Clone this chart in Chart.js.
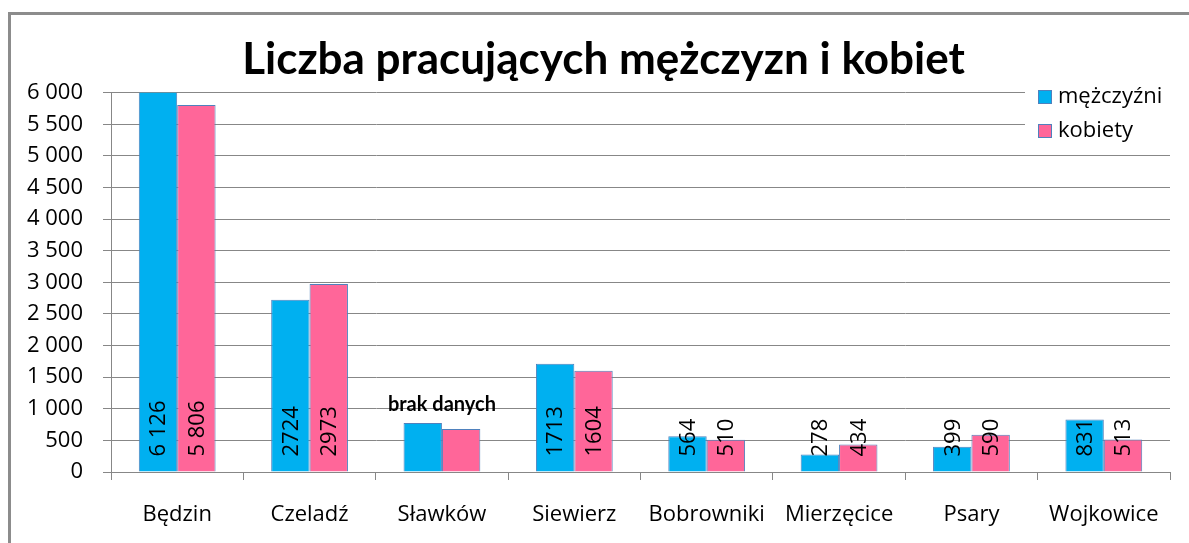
<!DOCTYPE html>
<html>
<head>
<meta charset="utf-8">
<script src="https://cdn.jsdelivr.net/npm/chart.js@4.4.0/dist/chart.umd.min.js"></script>
<style>
  html, body { margin: 0; padding: 0; background: #fff; }
  #wrap { position: relative; width: 1189px; height: 543px; }
  #frame { position: absolute; left: 8px; top: 12px; width: 1200px; height: 600px;
           border-left: 3px solid #8c8c8c; border-top: 3px solid #8c8c8c; }
  canvas { position: absolute; left: 0; top: 0; }
</style>
</head>
<body>
<div id="wrap">
  <div id="frame"></div>
  <canvas id="chart" width="1189" height="543"></canvas>
</div>
<script>
// Data
const categories = ['Będzin', 'Czeladź', 'Sławków', 'Siewierz', 'Bobrowniki', 'Mierzęcice', 'Psary', 'Wojkowice'];
const men = [6126, 2724, 775, 1713, 564, 278, 399, 831];
const women = [5806, 2973, 680, 1604, 510, 434, 590, 513];
const menLabels = ['6 126', '2724', '', '1713', '564', '278', '399', '831'];
const womenLabels = ['5 806', '2973', '', '1604', '510', '434', '590', '513'];
const noDataIndex = 2;
const noDataText = 'brak danych';
const yTicks = [0, 500, 1000, 1500, 2000, 2500, 3000, 3500, 4000, 4500, 5000, 5500, 6000];

const FONT = '"Open Sans", sans-serif';
const TITLE_FONT = 'Lato, sans-serif';
const gridGray = '#878787';

function fmt(v) {
  // thousands with a space, like "6 000"
  return v >= 1000 ? Math.floor(v / 1000) + ' ' + String(v % 1000).padStart(3, '0') : String(v);
}

// nudge the title a bit right, like in the original
const titleShift = {
  id: 'titleShift',
  afterLayout(chart) {
    chart.titleBlock.left += 13;
    chart.titleBlock.right += 13;
  }
};

// bar value labels, rotated, sitting near the bottom of each bar
const valueLabels = {
  id: 'valueLabels',
  afterDatasetsDraw(chart) {
    const ctx = chart.ctx;
    const sets = [menLabels, womenLabels];
    ctx.save();
    ctx.font = '22px ' + FONT;
    ctx.fillStyle = '#000';
    ctx.textAlign = 'left';
    ctx.textBaseline = 'middle';
    sets.forEach((labels, di) => {
      chart.getDatasetMeta(di).data.forEach((bar, i) => {
        if (!labels[i]) return;
        ctx.save();
        ctx.translate(bar.x, bar.base - 15);
        ctx.rotate(-Math.PI / 2);
        ctx.fillText(labels[i], 0, 1);
        ctx.restore();
      });
    });
    // "brak danych" over Sławków
    const b0 = chart.getDatasetMeta(0).data[noDataIndex];
    const b1 = chart.getDatasetMeta(1).data[noDataIndex];
    ctx.font = 'bold 20px ' + TITLE_FONT;
    ctx.textAlign = 'center';
    ctx.fillText(noDataText, (b0.x + b1.x) / 2, chart.scales.y.getPixelForValue(1000) - 4);
    ctx.restore();
  }
};

// legend drawn over the top right of the plot, on white
const boxLegend = {
  id: 'boxLegend',
  afterDraw(chart) {
    const ctx = chart.ctx;
    ctx.save();
    ctx.fillStyle = '#fff';
    ctx.fillRect(1025, 80, 164, 66);
    ctx.font = '22px ' + FONT;
    ctx.textBaseline = 'middle';
    chart.data.datasets.forEach((ds, i) => {
      const y = 97 + i * 34;
      ctx.fillStyle = ds.backgroundColor;
      ctx.fillRect(1038, y - 7, 14, 14);
      ctx.strokeStyle = ds.borderColor;
      ctx.lineWidth = 1;
      ctx.strokeRect(1038.5, y - 6.5, 13, 13);
      ctx.fillStyle = '#000';
      ctx.fillText(ds.label, 1058, y);
    });
    ctx.restore();
  }
};

new Chart(document.getElementById('chart'), {
  type: 'bar',
  data: {
    labels: categories,
    datasets: [
      { label: 'mężczyźni', data: men, backgroundColor: '#00B0F0', borderColor: '#4F81BD', borderWidth: 1 },
      { label: 'kobiety', data: women, backgroundColor: '#FF6699', borderColor: '#4F81BD', borderWidth: 1 }
    ]
  },
  options: {
    responsive: false,
    animation: false,
    layout: { padding: { left: 11, right: 19, top: 23, bottom: 0 } },
    datasets: { bar: { categoryPercentage: 0.58, barPercentage: 1.0 } },
    plugins: {
      legend: { display: false },
      tooltip: { enabled: false },
      title: {
        display: true,
        text: 'Liczba pracujących mężczyzn i kobiet',
        color: '#000',
        font: { family: TITLE_FONT, size: 44, weight: 'bold' },
        padding: { top: 10, bottom: 7 }
      }
    },
    scales: {
      x: {
        afterFit(scale) { scale.height = 71; },
        grid: { display: true, offset: true, drawOnChartArea: false, drawTicks: true, tickLength: 8, color: gridGray },
        border: { color: gridGray },
        ticks: { color: '#000', font: { family: FONT, size: 22 }, padding: 22, maxRotation: 0 }
      },
      y: {
        min: 0,
        max: 6000,
        afterFit(scale) { scale.width = 100; },
        afterBuildTicks(scale) { scale.ticks = yTicks.map(v => ({ value: v })); },
        grid: { color: gridGray, tickLength: 8 },
        border: { color: gridGray },
        ticks: { color: '#000', font: { family: FONT, size: 22 }, padding: 20, callback: v => fmt(v) }
      }
    }
  },
  plugins: [titleShift, valueLabels, boxLegend]
});
</script>
</body>
</html>
